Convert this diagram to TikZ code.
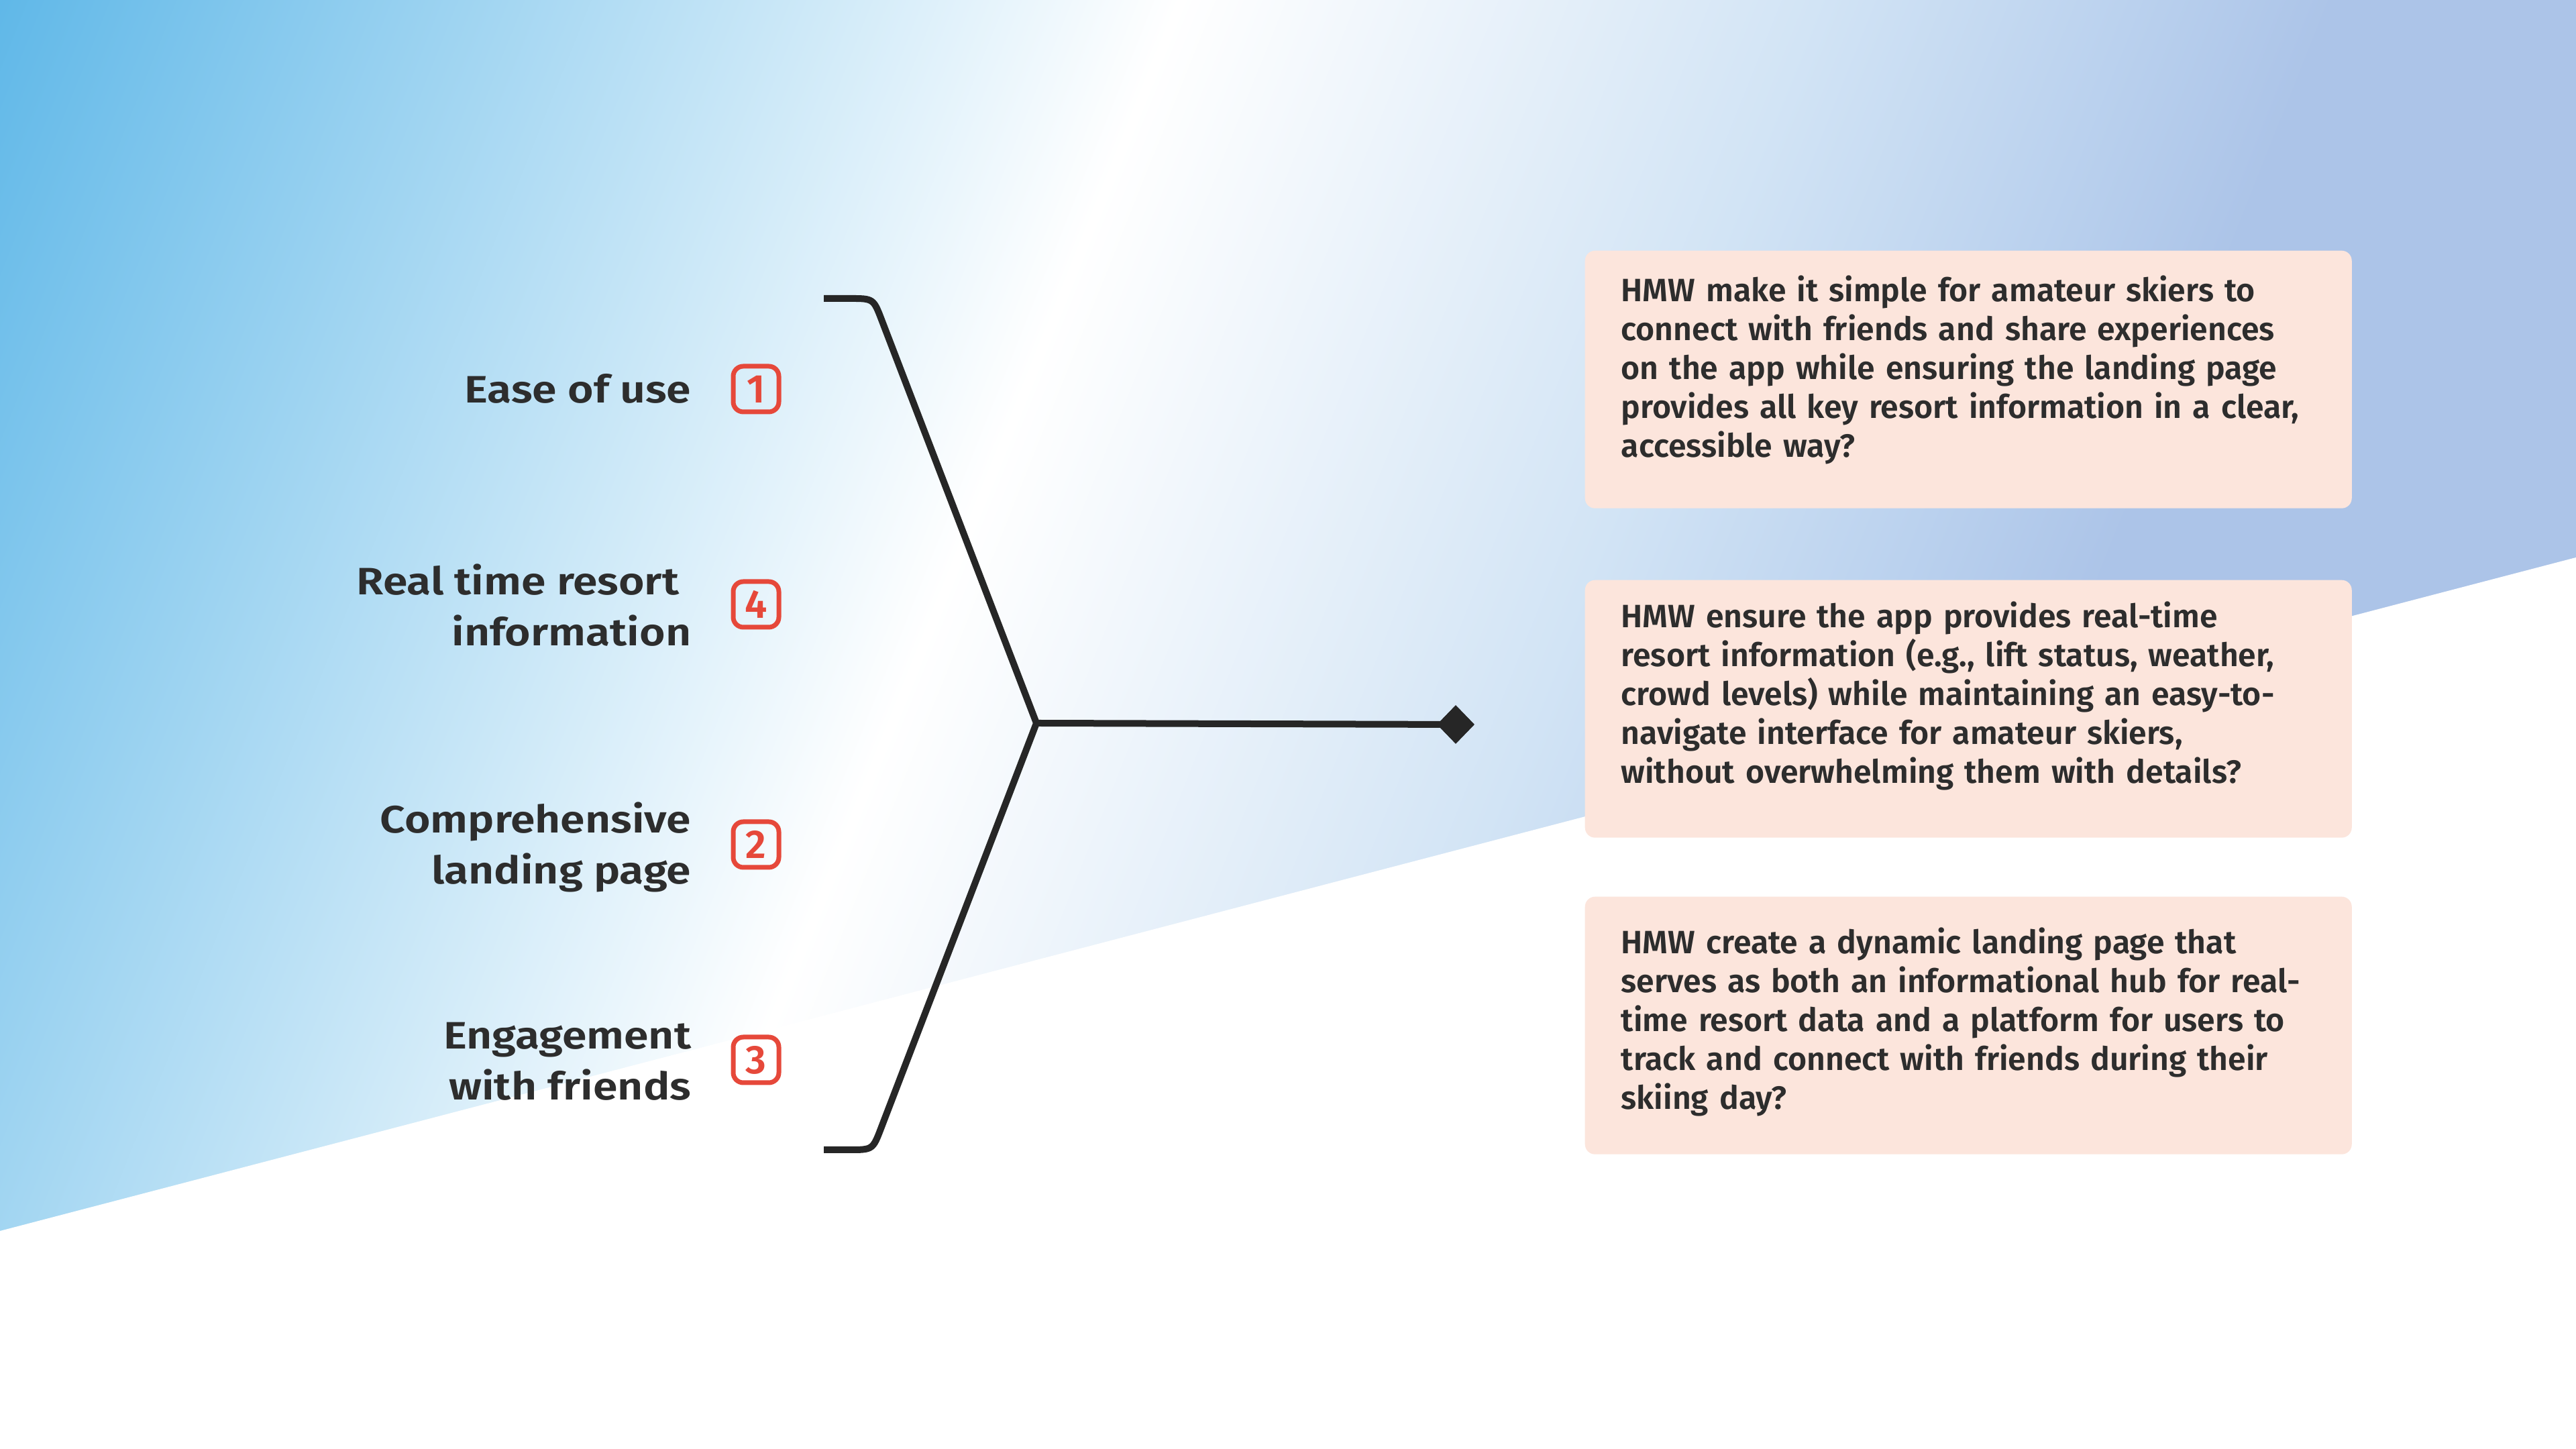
\documentclass[tikz,border=0pt]{standalone}
\usepackage{fontspec}
\setmainfont{Fira Sans}[UprightFont=* Medium, BoldFont=* SemiBold]
\newfontfamily\boxfont{Fira Sans}[UprightFont=* SemiBold]
\newfontfamily\lblfont{Fira Sans}[UprightFont=* SemiBold, FakeStretch=1.16]
\usetikzlibrary{shapes.geometric}
\definecolor{bgblue}{HTML}{60B8E8}
\definecolor{bgmid}{HTML}{D2E4F5}
\definecolor{bgmidb}{HTML}{BAD1EE}
\definecolor{bglav}{HTML}{ACC4E8}
\definecolor{boxfill}{HTML}{FCE5DC}
\definecolor{ink}{HTML}{2D2D2D}
\definecolor{lineink}{HTML}{262626}
\definecolor{badgered}{HTML}{E6483A}
\pgfdeclarehorizontalshading{bgshade}{100bp}{color(0bp)=(bgblue); color(26.26bp)=(bgblue); color(44.0bp)=(white); color(53.6bp)=(bgmid); color(58.4bp)=(bgmidb); color(61.41bp)=(bglav); color(100bp)=(bglav)}
\tikzset{
  hmwbox/.style={fill=boxfill, rounded corners=0.15cm, minimum width=11.43cm, minimum height=3.84cm, anchor=north west, inner sep=0pt},
  hmwtext/.style={anchor=base west, inner sep=0pt, text width=11cm, align=left, text=ink, font=\boxfont\fontsize{13.7pt}{16.5pt}\selectfont},
  lbl/.style={anchor=base east, inner sep=0pt, text=ink, font=\lblfont\fontsize{16.2pt}{21.6pt}\selectfont},
  badge/.style={draw=badgered, line width=0.07cm, rounded corners=0.15cm, minimum size=0.68cm, inner sep=0pt, text=badgered, font=\bfseries\fontsize{17pt}{20pt}\selectfont},
  bracket/.style={draw=lineink, line width=0.1cm, line join=miter},
  tipshape/.style={diamond, fill=lineink, inner sep=0pt, minimum width=0.56cm, minimum height=0.58cm}
}
\begin{document}
\begin{tikzpicture}[x=1cm,y=1cm]
\useasboundingbox (0,0) rectangle (38.4,21.6);
\begin{scope}
\clip (0,0) rectangle (38.4,21.6);
\shade[shading=bgshade, shading angle=-21.8] (-3.8,-12.2) rectangle (42.2,33.8);
\end{scope}
\fill[white] (0,0) -- (0,3.25) -- (38.4,13.29) -- (38.4,0) -- cycle;

% boxes
\node[hmwbox] (box1) at (23.62,17.87) {};
\node[hmwbox] (box2) at (23.62,12.96) {};
\node[hmwbox] (box3) at (23.62,8.24) {};
\node[hmwtext] (t1) at (24.16,17.10) {HMW make it simple for amateur skiers to\\connect with friends and share experiences\\on the app while ensuring the landing page\\provides all key resort information in a clear,\\accessible way?};
\node[hmwtext] (t2) at (24.16,12.24) {HMW ensure the app provides real-time\\resort information (e.g., lift status, weather,\\crowd levels) while maintaining an easy-to-\\navigate interface for amateur skiers,\\without overwhelming them with details?};
\node[hmwtext] (t3) at (24.16,7.38) {HMW create a dynamic landing page that\\serves as both an informational hub for real-\\time resort data and a platform for users to\\track and connect with friends during their\\skiing day?};

% labels
\node[lbl] (l1) at (10.31,15.59) {Ease of use};
\node[lbl] (l2a) at (10.13,12.73) {Real time resort};
\node[lbl] (l2b) at (10.31,11.97) {information};
\node[lbl] (l3a) at (10.31,9.18) {Comprehensive};
\node[lbl] (l3b) at (10.31,8.42) {landing page};
\node[lbl] (l4a) at (10.31,5.96) {Engagement};
\node[lbl] (l4b) at (10.31,5.20) {with friends};

% badges
\node[badge] (n1) at (11.27,15.80) {1};
\node[badge] (n4) at (11.27,12.59) {4};
\node[badge] (n2) at (11.27,9.01) {2};
\node[badge] (n3) at (11.27,5.80) {3};

% bracket
\coordinate (t0) at (12.28,17.15);
\coordinate (t1a) at (12.67,17.15);
\coordinate (t1c) at (13.02,17.15);
\coordinate (t1b) at (13.145,16.823);
\coordinate (v) at (15.45,10.82);
\coordinate (b1b) at (13.135,4.787);
\coordinate (b1c) at (13.01,4.46);
\coordinate (b1a) at (12.66,4.46);
\coordinate (b0) at (12.28,4.46);
\draw[bracket] (t0) -- (t1a) .. controls (t1c) .. (t1b) -- (v) -- (b1b) .. controls (b1c) .. (b1a) -- (b0);
\node[tipshape] (tip) at (21.70,10.80) {};
\draw[bracket] (v) -- (tip.center);
\node[tipshape] at (tip.center) {};
\end{tikzpicture}
\end{document}
